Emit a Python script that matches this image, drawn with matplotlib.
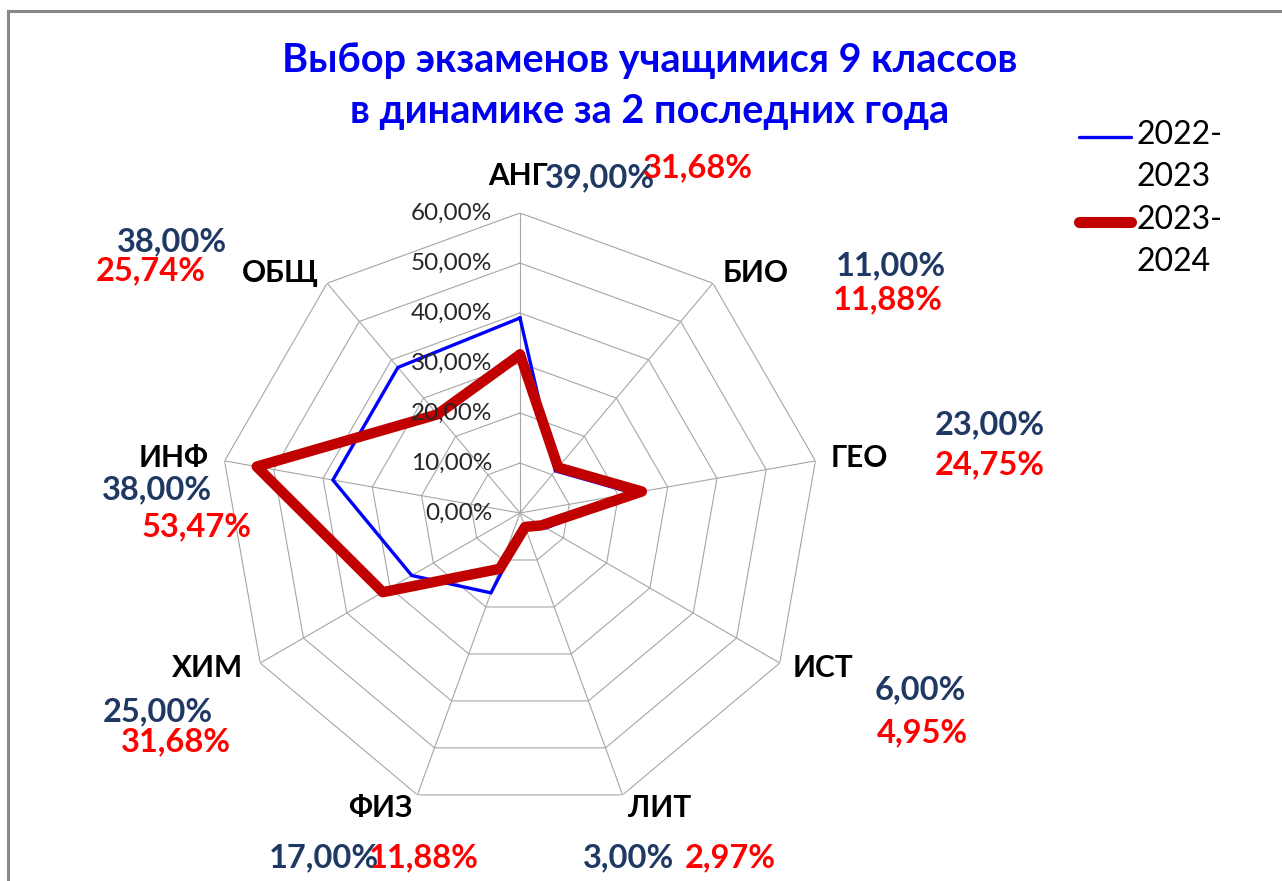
import numpy as np
import matplotlib
matplotlib.use("Agg")
import matplotlib.pyplot as plt
from matplotlib.lines import Line2D
from matplotlib.patches import Rectangle

# data
subjects = ["АНГ", "БИО", "ГЕО", "ИСТ", "ЛИТ", "ФИЗ", "ХИМ", "ИНФ", "ОБЩ"]
y2022 = [39.00, 11.00, 23.00, 6.00, 3.00, 17.00, 25.00, 38.00, 38.00]
y2023 = [31.68, 11.88, 24.75, 4.95, 2.97, 11.88, 31.68, 53.47, 25.74]
series_names = ["2022-\n2023", "2023-\n2024"]
rings = [0, 10, 20, 30, 40, 50, 60]

# layout (pixel centres in the 1282x881 picture)
cat_pos = [(518, 176), (756, 273), (859, 458), (823, 668), (660, 808),
           (380, 808), (208, 668), (174, 458), (280, 273)]
pos_2022 = [(600, 178), (891, 266), (990, 425), (920, 690), (629, 858),
            (324, 858), (158, 712), (157, 490), (172, 242)]
pos_2023 = [(698, 168), (888, 300), (990, 465), (922, 733), (730, 858),
            (424, 858), (176, 742), (197, 527), (151, 271)]

W, H = 1282, 881
FONT = "Lato"
BLUE = "#0000FF"
RED = "#C00000"
GRID = "#A6A6A6"


def fpos(p):
    return p[0] / W, 1 - p[1] / H


def pct(v):
    return f"{v:.2f}".replace(".", ",") + "%"


fig = plt.figure(figsize=(W / 100, H / 100), dpi=100)
fig.patch.set_facecolor("white")

# chart frame (left and top edges are visible)
fig.add_artist(Rectangle((8 / W, -0.1), 1.2, 1 - 11 / H + 0.1, transform=fig.transFigure,
                         fill=False, edgecolor="#888888", linewidth=2.2))

cx, cy, R = 520, 513, 300
ax = fig.add_axes([(cx - R) / W, 1 - (cy + R) / H, 2 * R / W, 2 * R / H], projection="polar")
ax.set_theta_zero_location("N")
ax.set_theta_direction(-1)
ax.set_ylim(0, 60)
ax.grid(False)
ax.spines["polar"].set_visible(False)
ax.set_xticks([])
ax.set_yticks([])
ax.patch.set_visible(False)

theta = np.linspace(0, 2 * np.pi, len(subjects), endpoint=False)
theta_c = np.append(theta, theta[0])

for r in rings[1:]:
    ax.plot(theta_c, [r] * len(theta_c), color=GRID, lw=0.8, zorder=1)
for t in theta:
    ax.plot([t, t], [0, rings[-1]], color=GRID, lw=0.8, zorder=1)

ax.plot(theta_c, y2022 + y2022[:1], color=BLUE, lw=2.4, zorder=3, solid_joinstyle="miter")
ax.plot(theta_c, y2023 + y2023[:1], color=RED, lw=7.5, zorder=4, solid_joinstyle="round",
        solid_capstyle="round")

for r in rings:
    ax.annotate(pct(r), xy=(0, r), xytext=(-28, 0), textcoords="offset pixels",
                ha="right", va="center", fontsize=17.5, family=FONT, color="#262626", zorder=5)

for name, p in zip(subjects, cat_pos):
    fig.text(*fpos(p), name, ha="center", va="center", fontsize=21.5, fontweight="bold",
             family=FONT, color="black")
for v, p in zip(y2022, pos_2022):
    fig.text(*fpos(p), pct(v), ha="center", va="center", fontsize=23.5, fontweight="bold",
             family=FONT, color="#1F3864")
for v, p in zip(y2023, pos_2023):
    fig.text(*fpos(p), pct(v), ha="center", va="center", fontsize=23.5, fontweight="bold",
             family=FONT, color="#FF0000")

fig.text(650 / W, 1 - 86 / H, "Выбор экзаменов учащимися 9 классов\nв динамике за 2 последних года",
         ha="center", va="center", fontsize=28.5, fontweight="bold", family=FONT,
         color="#0000F0", linespacing=1.45)

# legend
for (y0, col, lw), lbl in zip([(137, BLUE, 2.4), (222, RED, 8)], series_names):
    fig.add_artist(Line2D([1079 / W, 1131 / W], [1 - y0 / H] * 2, color=col, lw=lw,
                          solid_capstyle="round", transform=fig.transFigure))
    fig.text(1137 / W, 1 - (y0 - 17) / H, lbl, ha="left", va="top", fontsize=23,
             family=FONT, color="black", linespacing=1.5)

fig.savefig("out.png", dpi=100)
